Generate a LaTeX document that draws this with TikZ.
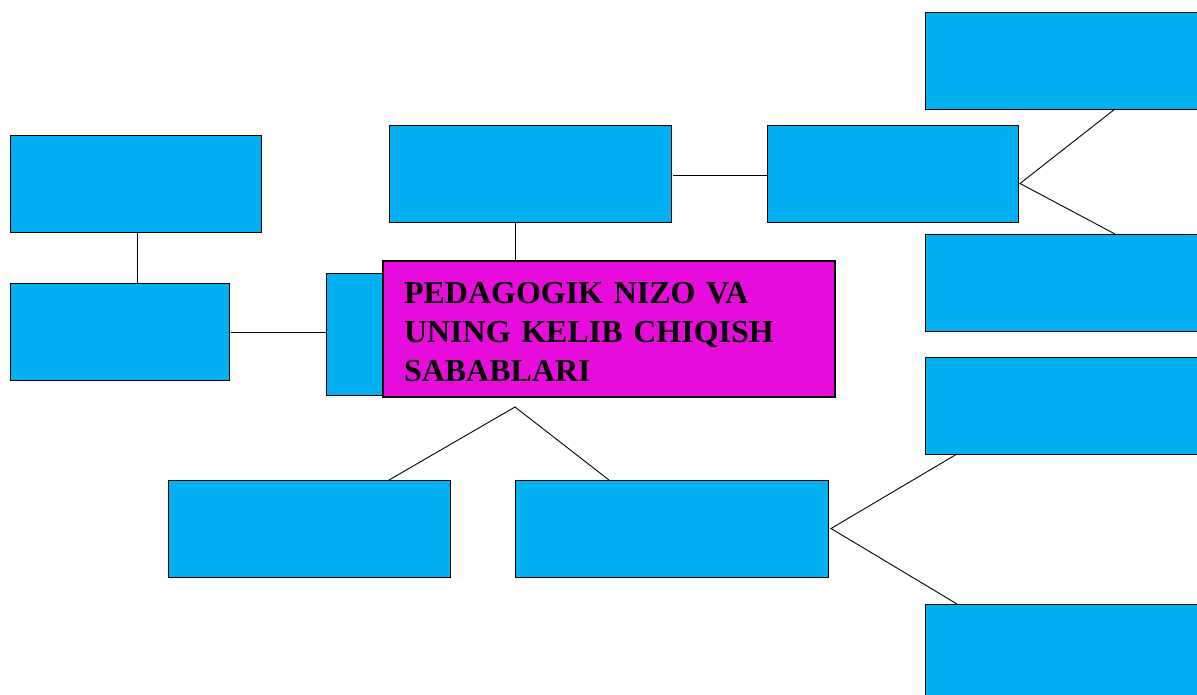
\documentclass[tikz,border=0pt]{standalone}
\usepackage{fontspec}
\setmainfont{Liberation Serif}
\definecolor{boxcyan}{RGB}{0,176,240}
\definecolor{boxmag}{RGB}{232,12,220}
\tikzset{
  cbox/.style={draw=black, fill=boxcyan, line width=0.9pt, inner sep=0pt, outer sep=0pt, anchor=north west},
  mbox/.style={draw=black, fill=boxmag, line width=1.8pt, inner sep=0pt, outer sep=0pt, anchor=north west,
    font=\bfseries\fontsize{32}{39}\selectfont, align=left},
  conn/.style={draw=black, line width=0.9pt}
}
\begin{document}
\begin{tikzpicture}[x=1pt,y=-1pt]
\clip (0,0) rectangle (1197,695);
\fill[white] (0,0) rectangle (1197,695);
% right column
\node[cbox, minimum width=290pt, minimum height=97pt] (tr1) at (925,12) {};
\node[cbox, minimum width=290pt, minimum height=97pt] (tr2) at (925,234) {};
\node[cbox, minimum width=290pt, minimum height=97pt] (r3) at (925,357) {};
\node[cbox, minimum width=290pt, minimum height=97pt] (r4) at (925,604) {};
% top row
\node[cbox, minimum width=282pt, minimum height=97pt] (b1) at (389,125) {};
\node[cbox, minimum width=251pt, minimum height=97pt] (b2) at (767,125) {};
% left
\node[cbox, minimum width=251pt, minimum height=97pt] (l1) at (10,135) {};
\node[cbox, minimum width=219pt, minimum height=97pt] (l2) at (10,283) {};
% hidden box behind the title
\node[cbox, minimum width=180pt, minimum height=122pt] (hid) at (326,273) {};
% bottom row
\node[cbox, minimum width=282pt, minimum height=97pt] (bt1) at (168,480) {};
\node[cbox, minimum width=313pt, minimum height=97pt] (bt2) at (515,480) {};
% title
\node[mbox, minimum width=452pt, minimum height=136pt, text width=410pt] (title) at (383,261)
  {\rule{0pt}{27pt}PEDAGOGIK NIZO VA\\UNING KELIB CHIQISH\\SABABLARI};
% connectors
\draw[conn] ([xshift=2pt,yshift=-1.5pt]b1.east) -- ([yshift=-1.5pt]b2.west);
\draw[conn] ([xshift=-15pt]b1.south) -- ([xshift=-94pt]title.north);
\draw[conn] ([xshift=127pt]l1.south west) -- ([xshift=127pt]l2.north west);
\draw[conn] ([xshift=2pt,yshift=-0.5pt]l2.east) -- ([yshift=-0.5pt]l2.east -| hid.west);
\coordinate (ap1) at ([xshift=2pt,yshift=-10pt]b2.east);
\draw[conn] ([xshift=190pt]tr1.south west) -- (ap1) -- ([xshift=190pt]tr2.north west);
\coordinate (ap2) at ([xshift=132pt,yshift=-10pt]title.south west);
\draw[conn] ([xshift=-61pt]bt1.north east) -- (ap2) -- ([xshift=94pt]bt2.north west);
\coordinate (ap3) at ([xshift=3pt]bt2.east);
\draw[conn] ([xshift=32pt]r3.south west) -- (ap3) -- ([xshift=32pt]r4.north west);
\end{tikzpicture}
\end{document}
